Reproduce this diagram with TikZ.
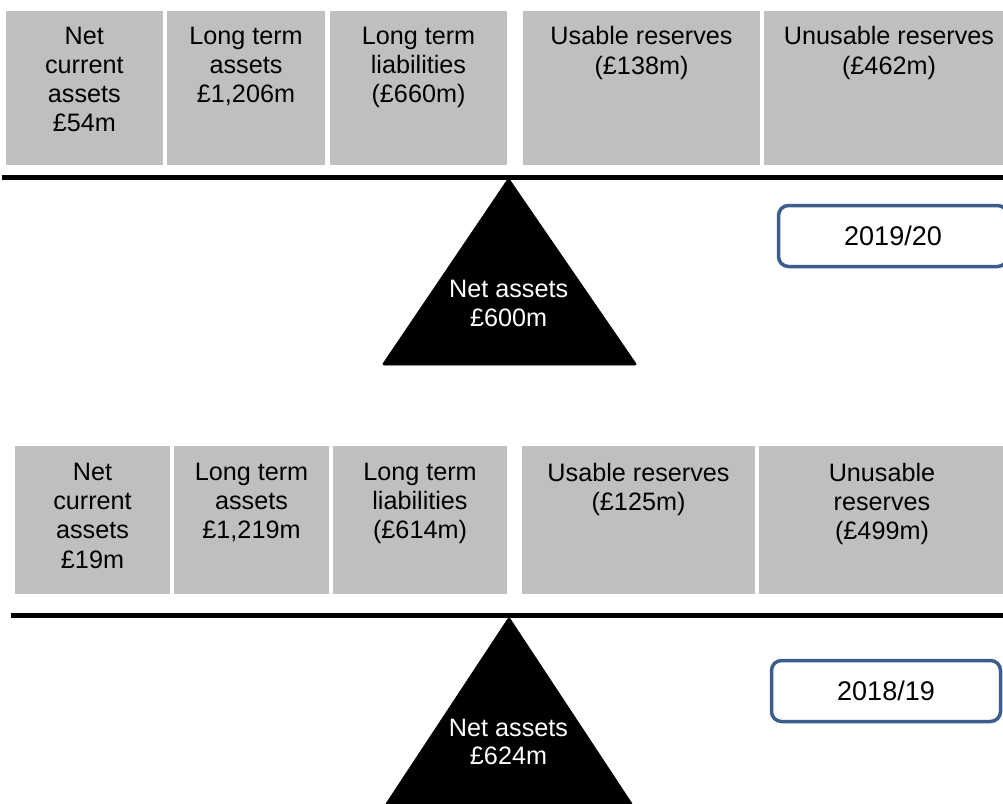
\documentclass[tikz,border=0pt]{standalone}
\usepackage{fontspec}
\setmainfont{Liberation Sans}
\definecolor{cellgray}{RGB}{191,191,191}
\definecolor{yearblue}{RGB}{59,94,140}
\begin{document}
\begin{tikzpicture}[x=1pt,y=-1pt,
  cell/.style={fill=cellgray, draw=none, inner sep=0pt, outer sep=0pt},
  lbl/.style={anchor=north, inner sep=0pt, align=center,
    font=\fontsize{25.2}{29.3}\selectfont,
    execute at begin node={\rule{0pt}{18pt}}},
  pivotlbl/.style={lbl, text=white, font=\fontsize{25.2}{28.4}\selectfont},
  beam/.style={line width=5pt, black},
  pivot/.style={fill=black, draw=black, line width=0.5pt, rounded corners=2pt},
  yearbox/.style={draw=yearblue, line width=3.5pt, rounded corners=10pt,
    fill=white, inner sep=0pt, minimum width=229pt, minimum height=61pt,
    font=\fontsize{27}{32}\selectfont}]
\useasboundingbox (0,0) rectangle (1003,803);
\clip (0,0) rectangle (1003,803);

% ---------- 2019/20 ----------
\node[cell, minimum width=157.3pt, minimum height=154pt] (a1) at (84.35,88) {};
\node[cell, minimum width=158pt,   minimum height=154pt] (a2) at (246,88) {};
\node[cell, minimum width=177pt,   minimum height=154pt] (a3) at (418.5,88) {};
\node[cell, minimum width=237pt,   minimum height=154pt] (a4) at (641.5,88) {};
\node[cell, minimum width=250pt,   minimum height=154pt] (a5) at (889,88) {};

\node[lbl] (ta1) at ([yshift=-15.5pt]a1.north) {Net\\current\\assets\\£54m};
\node[lbl] (ta2) at ([yshift=-15.5pt]a2.north) {Long term\\assets\\£1,206m};
\node[lbl] (ta3) at ([yshift=-15.5pt]a3.north) {Long term\\liabilities\\(£660m)};
\node[lbl] (ta4) at ([yshift=-15.5pt]a4.north) {Usable reserves\\(£138m)};
\node[lbl] (ta5) at ([yshift=-15.5pt]a5.north) {Unusable reserves\\(£462m)};

\draw[beam] (2,177) -- (1003,177);
\draw[pivot] (508.5,178) -- (637,365) -- (382,365) -- cycle;
\node[pivotlbl] (na1) at (508.7,280.3) {Net assets\\£600m};

\node[yearbox] (y1) at (893,236) {2019/20};

% ---------- 2018/19 ----------
\node[cell, minimum width=155pt, minimum height=148pt] (b1) at (92.5,520) {};
\node[cell, minimum width=155pt, minimum height=148pt] (b2) at (251.5,520) {};
\node[cell, minimum width=174pt, minimum height=148pt] (b3) at (420,520) {};
\node[cell, minimum width=233pt, minimum height=148pt] (b4) at (638.5,520) {};
\node[cell, minimum width=246pt, minimum height=148pt] (b5) at (882,520) {};

\node[lbl] (tb1) at ([yshift=-16.6pt]b1.north) {Net\\current\\assets\\£19m};
\node[lbl] (tb2) at ([yshift=-16.6pt]b2.north) {Long term\\assets\\£1,219m};
\node[lbl] (tb3) at ([yshift=-16.6pt]b3.north) {Long term\\liabilities\\(£614m)};
\node[lbl] (tb4) at ([yshift=-16.6pt]b4.north) {Usable reserves\\(£125m)};
\node[lbl] (tb5) at ([yshift=-16.6pt]b5.north) {Unusable\\reserves\\(£499m)};

\draw[beam] (11,615.5) -- (1003,615.5);
\draw[pivot] (509,617) -- (633,805) -- (385,805) -- cycle;
\node[pivotlbl] (nb1) at (508.5,718.7) {Net assets\\£624m};

\node[yearbox] (y2) at (886,691) {2018/19};
\end{tikzpicture}
\end{document}
